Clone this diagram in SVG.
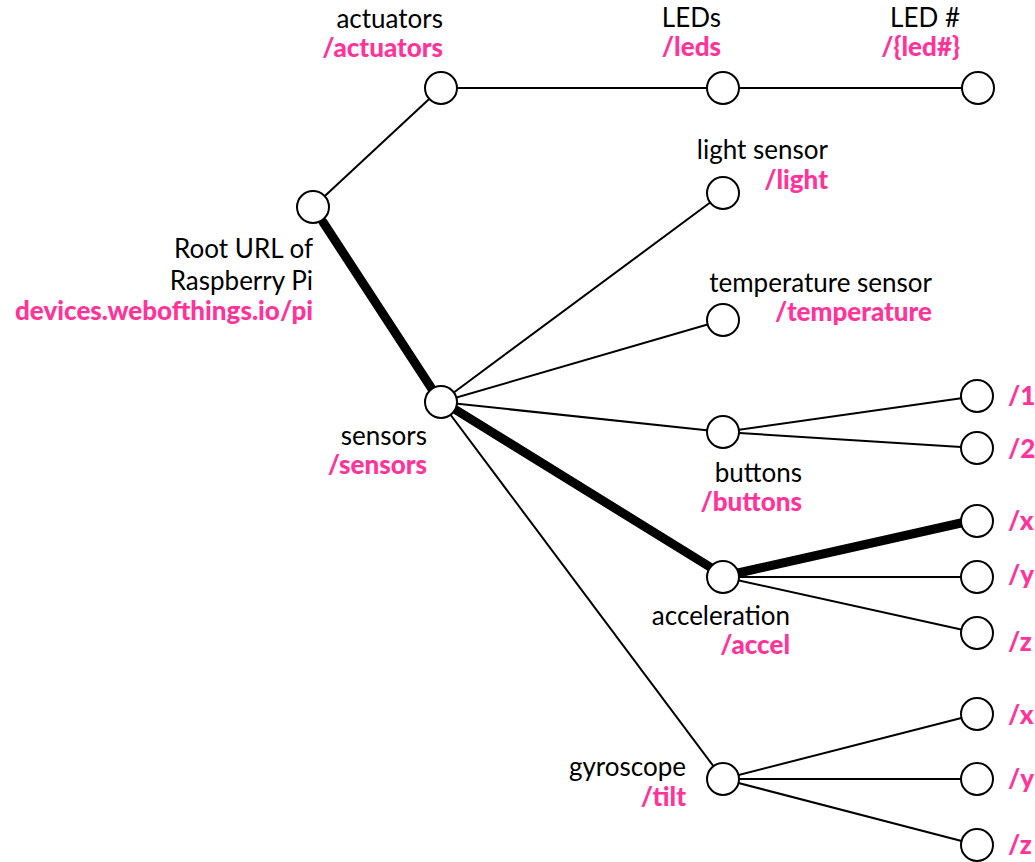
<svg xmlns="http://www.w3.org/2000/svg" width="1035" height="862" viewBox="0 0 1035 862">
  <style>
    .edge { stroke: #000; stroke-width: 2; fill: none; }
    .path { stroke: #000; stroke-width: 9; stroke-linecap: round; fill: none; }
    .node circle { fill: #fff; stroke: #000; stroke-width: 2; }
    .name { font-family: Lato, "Open Sans", sans-serif; font-size: 26px; fill: #000; text-anchor: end; }
    .url { font-family: Lato, "Open Sans", sans-serif; font-size: 26px; font-weight: 900; fill: #ff3399; text-anchor: end; }
    .leaf { font-family: Lato, "Open Sans", sans-serif; font-size: 26px; font-weight: 900; fill: #ff3399; }
  </style>

  <!-- connectors -->
  <g id="connectors">
    <line class="edge" x1="313" y1="207" x2="441" y2="88"/>
    <line class="edge" x1="441" y1="88" x2="723" y2="88"/>
    <line class="edge" x1="723" y1="88" x2="978" y2="88"/>
    <line class="edge" x1="441" y1="402" x2="723" y2="193"/>
    <line class="edge" x1="441" y1="402" x2="723" y2="320"/>
    <line class="edge" x1="441" y1="402" x2="723" y2="432"/>
    <line class="edge" x1="441" y1="402" x2="723" y2="779"/>
    <line class="edge" x1="723" y1="432" x2="977" y2="396"/>
    <line class="edge" x1="723" y1="432" x2="977" y2="448"/>
    <line class="edge" x1="723" y1="577" x2="977" y2="577"/>
    <line class="edge" x1="723" y1="577" x2="977" y2="633"/>
    <line class="edge" x1="723" y1="779" x2="977" y2="714"/>
    <line class="edge" x1="723" y1="779" x2="977" y2="779"/>
    <line class="edge" x1="723" y1="779" x2="977" y2="845"/>
    <!-- highlighted route: root / sensors / accel / x -->
    <line class="path" x1="323" y1="222" x2="432" y2="389"/>
    <line class="path" x1="456" y1="410" x2="710" y2="567"/>
    <line class="path" x1="738" y1="573" x2="961" y2="523"/>
  </g>

  <g id="root" class="node">
    <circle cx="313" cy="207" r="16"/>
    <text class="name" x="313" y="258">Root URL of</text>
    <text class="name" x="313" y="290">Raspberry Pi</text>
    <text class="url" x="313" y="320">devices.webofthings.io/pi</text>
  </g>
  <g id="actuators" class="node">
    <circle cx="441" cy="88" r="16"/>
    <text class="name" x="443" y="28">actuators</text>
    <text class="url" x="443" y="57">/actuators</text>
  </g>
  <g id="leds" class="node">
    <circle cx="723" cy="88" r="16"/>
    <text class="name" x="721" y="27">LEDs</text>
    <text class="url" x="721" y="56">/leds</text>
  </g>
  <g id="led-number" class="node">
    <circle cx="978" cy="88" r="16"/>
    <text class="name" x="960" y="27">LED #</text>
    <text class="url" x="960" y="56">/{led#}</text>
  </g>
  <g id="light" class="node">
    <circle cx="723" cy="193" r="16"/>
    <text class="name" x="828" y="159">light sensor</text>
    <text class="url" x="828" y="189">/light</text>
  </g>
  <g id="temperature" class="node">
    <circle cx="723" cy="320" r="16"/>
    <text class="name" x="932" y="292">temperature sensor</text>
    <text class="url" x="932" y="321">/temperature</text>
  </g>
  <g id="sensors" class="node">
    <circle cx="441" cy="402" r="16"/>
    <text class="name" x="427" y="445">sensors</text>
    <text class="url" x="427" y="474">/sensors</text>
  </g>
  <g id="buttons" class="node">
    <circle cx="723" cy="432" r="16"/>
    <text class="name" x="802" y="482">buttons</text>
    <text class="url" x="802" y="511">/buttons</text>
  </g>
  <g id="accel" class="node">
    <circle cx="723" cy="577" r="16"/>
    <text class="name" x="790" y="625">acceleration</text>
    <text class="url" x="790" y="654">/accel</text>
  </g>
  <g id="gyroscope" class="node">
    <circle cx="723" cy="779" r="16"/>
    <text class="name" x="686" y="776">gyroscope</text>
    <text class="url" x="686" y="806">/tilt</text>
  </g>

  <g id="button-1" class="node">
    <circle cx="977" cy="396" r="16"/>
    <text class="leaf" x="1008" y="405">/1</text>
  </g>
  <g id="button-2" class="node">
    <circle cx="977" cy="448" r="16"/>
    <text class="leaf" x="1008" y="458">/2</text>
  </g>
  <g id="accel-x" class="node">
    <circle cx="977" cy="521" r="16"/>
    <text class="leaf" x="1008" y="530">/x</text>
  </g>
  <g id="accel-y" class="node">
    <circle cx="977" cy="577" r="16"/>
    <text class="leaf" x="1008" y="584">/y</text>
  </g>
  <g id="accel-z" class="node">
    <circle cx="977" cy="633" r="16"/>
    <text class="leaf" x="1008" y="651">/z</text>
  </g>
  <g id="tilt-x" class="node">
    <circle cx="977" cy="714" r="16"/>
    <text class="leaf" x="1008" y="724">/x</text>
  </g>
  <g id="tilt-y" class="node">
    <circle cx="977" cy="779" r="16"/>
    <text class="leaf" x="1008" y="788">/y</text>
  </g>
  <g id="tilt-z" class="node">
    <circle cx="977" cy="845" r="16"/>
    <text class="leaf" x="1008" y="854">/z</text>
  </g>
</svg>
